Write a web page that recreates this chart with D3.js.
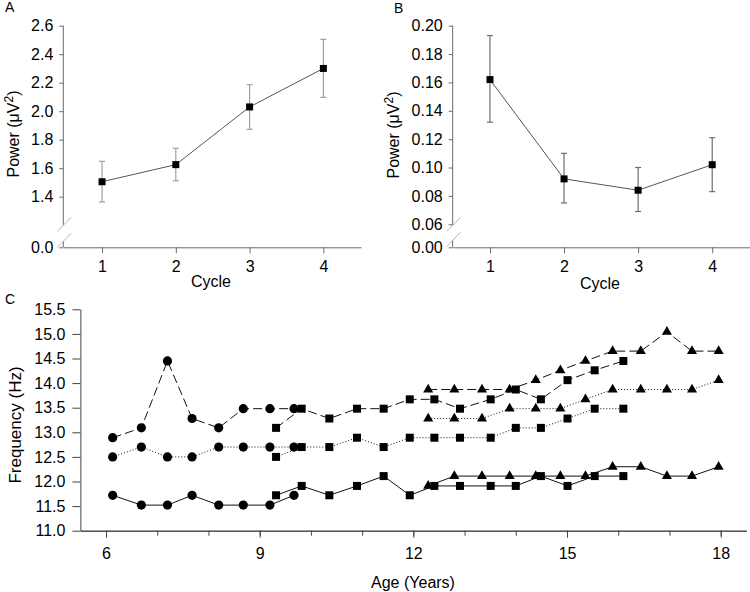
<!DOCTYPE html>
<html><head><meta charset="utf-8">
<script src="https://cdn.jsdelivr.net/npm/d3@7"></script>
<style>body{margin:0;background:#fff} svg{display:block} text{font-family:"Liberation Sans",Arial,sans-serif}</style>
</head><body><svg id="c" width="750" height="592"></svg>
<script>
// ---- Panel A / B data ----
const cycles = [1, 2, 3, 4];
const powerA = [1.505, 1.625, 2.03, 2.30];
const errLoA = [1.363, 1.512, 1.873, 2.097];
const errHiA = [1.648, 1.740, 2.186, 2.504];
const ticksA = [0, 1.4, 1.6, 1.8, 2.0, 2.2, 2.4, 2.6];

const powerB = [0.162, 0.092, 0.084, 0.102];
const errLoB = [0.132, 0.075, 0.069, 0.083];
const errHiB = [0.193, 0.110, 0.100, 0.121];
const ticksB = [0, 0.06, 0.08, 0.10, 0.12, 0.14, 0.16, 0.18, 0.20];

// ---- Panel C data ----
const agesCircle = [6.13, 6.69, 7.20, 7.68, 8.20, 8.68, 9.20, 9.67];
const circleSolid  = [11.72, 11.52, 11.52, 11.72, 11.52, 11.52, 11.52, 11.72];
const circleDotted = [12.50, 12.70, 12.50, 12.50, 12.70, 12.70, 12.70, 12.70];
const circleDashed = [12.89, 13.09, 14.45, 13.28, 13.09, 13.48, 13.48, 13.48];

const agesSquare = [9.32, 9.82, 10.36, 10.90, 11.42, 11.93, 12.41, 12.91, 13.51, 14.00, 14.49, 15.01, 15.54, 16.10];
const squareSolid  = [11.72, 11.91, 11.72, 11.91, 12.11, 11.72, 11.91, 11.91, 11.91, 11.91, 12.11, 11.91, 12.11, 12.11];
const squareDotted = [12.50, 12.70, 12.70, 12.89, 12.70, 12.89, 12.89, 12.89, 12.89, 13.09, 13.09, 13.28, 13.48, 13.48];
const squareDashed = [13.09, 13.48, 13.28, 13.48, 13.48, 13.67, 13.67, 13.48, 13.67, 13.87, 13.67, 14.06, 14.26, 14.45];

const agesTriangle = [12.29, 12.80, 13.34, 13.88, 14.39, 14.87, 15.36, 15.89, 16.44, 16.95, 17.44, 17.96];
const triangleSolid  = [11.91, 12.11, 12.11, 12.11, 12.11, 12.11, 12.11, 12.30, 12.30, 12.11, 12.11, 12.30];
const triangleDotted = [13.28, 13.28, 13.28, 13.48, 13.48, 13.48, 13.67, 13.87, 13.87, 13.87, 13.87, 14.06];
const triangleDashed = [13.87, 13.87, 13.87, 13.87, 14.06, 14.26, 14.45, 14.65, 14.65, 15.04, 14.65, 14.65];

const ageTicks = [6, 9, 12, 15, 18];
const ageMinor = [6, 7, 8, 9, 10, 11, 12, 13, 14, 15, 16, 17, 18];
const freqTicks = [11.0, 11.5, 12.0, 12.5, 13.0, 13.5, 14.0, 14.5, 15.0, 15.5];

const svg = d3.select("#c");
const FONT = 16;

function styleAxis(g, col) {
  g.selectAll(".domain").attr("stroke", col);
  g.selectAll(".tick line").attr("stroke", col);
  g.selectAll(".tick text").attr("font-size", FONT).attr("fill", "#000")
    .attr("font-family", '"Liberation Sans",Arial,sans-serif');
}

function powerLabel(x, y) {
  const t = svg.append("text").attr("transform", `translate(${x},${y}) rotate(-90)`)
    .attr("text-anchor", "middle").attr("font-size", FONT);
  t.append("tspan").text("Power (\u03BCV");
  t.append("tspan").text("2").attr("font-size", 12).attr("dy", -6);
  t.append("tspan").text(")").attr("dy", 6);
}

function panelPower(opt) {
  const { x, y, vals, lo, hi, ticks, fmt, errCol, axX, brk } = opt;
  const axCol = "#6a6a6a";
  // x axis
  const gx = svg.append("g").attr("transform", `translate(0,${y.range()[0]})`)
    .call(d3.axisBottom(x).tickValues(cycles).tickFormat(d3.format("d")).tickSize(6).tickPadding(7).tickSizeOuter(0));
  styleAxis(gx, axCol);
  // y axis
  const gy = svg.append("g").attr("transform", `translate(${axX},0)`)
    .call(d3.axisLeft(y).tickValues(ticks).tickFormat(d3.format(fmt)).tickSize(4).tickPadding(6));
  gy.select(".domain").remove();
  styleAxis(gy, axCol);
  const yTop = y(ticks[ticks.length - 1]);
  const y0 = y(0);
  svg.append("line").attr("x1", axX).attr("x2", axX).attr("y1", yTop).attr("y2", y0 - brk[0]).attr("stroke", axCol);
  svg.append("line").attr("x1", axX).attr("x2", axX).attr("y1", y0 - brk[1]).attr("y2", y0).attr("stroke", axCol);
  [brk[0], brk[1]].forEach(b => {
    svg.append("line").attr("x1", axX - 6).attr("y1", y0 - b + 6.2)
      .attr("x2", axX + 8).attr("y2", y0 - b - 8.2).attr("stroke", "#b8b8b8").attr("stroke-width", 1);
  });
  // error bars
  const eb = svg.append("g").attr("stroke", errCol).attr("stroke-width", 1.2);
  cycles.forEach((c, i) => {
    const cx = x(c);
    eb.append("line").attr("x1", cx).attr("x2", cx).attr("y1", y(hi[i])).attr("y2", y(lo[i]));
    eb.append("line").attr("x1", cx - 3).attr("x2", cx + 3).attr("y1", y(hi[i])).attr("y2", y(hi[i]));
    eb.append("line").attr("x1", cx - 3).attr("x2", cx + 3).attr("y1", y(lo[i])).attr("y2", y(lo[i]));
  });
  // line
  svg.append("path").datum(vals)
    .attr("d", d3.line().x((d, i) => x(cycles[i])).y(d => y(d)))
    .attr("fill", "none").attr("stroke", "#555").attr("stroke-width", 1);
  // markers
  svg.append("g").selectAll("rect").data(vals).join("rect")
    .attr("x", (d, i) => x(cycles[i]) - 3.5).attr("y", d => y(d) - 3.5)
    .attr("width", 7).attr("height", 7).attr("fill", "#000");
}

// Panel A
const xA = d3.scaleLinear().domain([0.475, 4.51]).range([63.3, 361]);
const yA = d3.scaleLinear().domain([0, 1.2, 2.6]).range([247.3, 225.2, 25.7]);
panelPower({ x: xA, y: yA, vals: powerA, lo: errLoA, hi: errHiA, ticks: ticksA, fmt: ".1f",
  errCol: "#a0a0a0", axX: 63.3, brk: [22, 6] });
svg.append("text").attr("x", 5).attr("y", 12).attr("font-size", 14).text("A");
powerLabel(19, 134);
svg.append("text").attr("x", 211).attr("y", 287).attr("text-anchor", "middle").attr("font-size", FONT).text("Cycle");

// Panel B
const xB = d3.scaleLinear().domain([0.497, 4.51]).range([452.7, 750]);
const yB = d3.scaleLinear().domain([0, 0.058, 0.20]).range([247.3, 227.1, 25.7]);
panelPower({ x: xB, y: yB, vals: powerB, lo: errLoB, hi: errHiB, ticks: ticksB, fmt: ".2f",
  errCol: "#6e6e6e", axX: 452.7, brk: [22, 7] });
svg.append("text").attr("x", 394).attr("y", 13).attr("font-size", 14).text("B");
powerLabel(399, 135);
svg.append("text").attr("x", 600).attr("y", 289).attr("text-anchor", "middle").attr("font-size", FONT).text("Cycle");

// Panel C
const xC = d3.scaleLinear().domain([5.5, 18.5]).range([80.4, 746.3]);
const yC = d3.scaleLinear().domain([11, 15.5]).range([530.7, 309.3]);
const cAx = "#444";
const gxm = svg.append("g").attr("transform", `translate(0,${yC(11)})`)
  .call(d3.axisBottom(xC).tickValues(ageMinor).tickSize(5).tickFormat("").tickSizeOuter(0));
styleAxis(gxm, cAx);
const gxc = svg.append("g").attr("transform", `translate(0,${yC(11)})`)
  .call(d3.axisBottom(xC).tickValues(ageTicks).tickFormat(d3.format("d")).tickSize(7).tickPadding(10).tickSizeOuter(0));
styleAxis(gxc, cAx);
const gyc = svg.append("g").attr("transform", `translate(${xC(5.5)},0)`)
  .call(d3.axisLeft(yC).tickValues(freqTicks).tickFormat(d3.format(".1f")).tickSize(8).tickPadding(7).tickSizeOuter(0));
styleAxis(gyc, cAx);

svg.append("text").attr("x", 5).attr("y", 304).attr("font-size", 14).text("C");
svg.append("text").attr("transform", "translate(21,425) rotate(-90)").attr("text-anchor", "middle")
  .attr("font-size", 17).text("Frequency (Hz)");
svg.append("text").attr("x", 413).attr("y", 588).attr("text-anchor", "middle").attr("font-size", FONT).text("Age (Years)");

const series = [
  { ages: agesCircle, v: circleSolid, dash: null, sym: "circle" },
  { ages: agesCircle, v: circleDotted, dash: "1,2", sym: "circle" },
  { ages: agesCircle, v: circleDashed, dash: "9,4", sym: "circle" },
  { ages: agesSquare, v: squareSolid, dash: null, sym: "square" },
  { ages: agesSquare, v: squareDotted, dash: "1,2", sym: "square" },
  { ages: agesSquare, v: squareDashed, dash: "9,4", sym: "square" },
  { ages: agesTriangle, v: triangleSolid, dash: null, sym: "triangle" },
  { ages: agesTriangle, v: triangleDotted, dash: "1,2", sym: "triangle" },
  { ages: agesTriangle, v: triangleDashed, dash: "9,4", sym: "triangle" }
];
const lineC = svg.append("g");
const markC = svg.append("g");
series.forEach(s => {
  lineC.append("path").datum(s.v)
    .attr("d", d3.line().x((d, i) => xC(s.ages[i])).y(d => yC(d)))
    .attr("fill", "none").attr("stroke", "#111").attr("stroke-width", 1)
    .attr("stroke-dasharray", s.dash);
  const pts = s.v.map((d, i) => [xC(s.ages[i]), yC(d)]);
  if (s.sym === "circle") {
    markC.selectAll(null).data(pts).join("circle").attr("cx", p => p[0]).attr("cy", p => p[1]).attr("r", 4.6).attr("fill", "#000");
  } else if (s.sym === "square") {
    markC.selectAll(null).data(pts).join("rect").attr("x", p => p[0] - 4).attr("y", p => p[1] - 4).attr("width", 8).attr("height", 8).attr("fill", "#000");
  } else {
    markC.selectAll(null).data(pts).join("path").attr("transform", p => `translate(${p[0]},${p[1]})`)
      .attr("d", d3.symbol(d3.symbolTriangle, 44)()).attr("fill", "#000");
  }
});
</script></body></html>
